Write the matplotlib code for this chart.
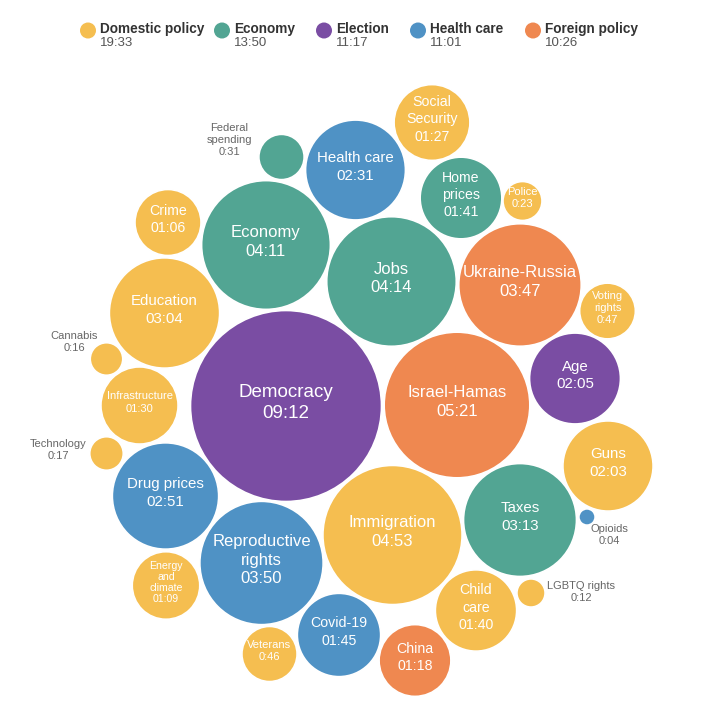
import matplotlib.pyplot as plt
from matplotlib.patches import Circle

plt.rcParams['font.family'] = ['Liberation Sans', 'DejaVu Sans']

#%% Data

groups = ["Domestic policy", "Economy", "Election", "Health care", "Foreign policy"]
group_colors = ["#F5BE50", "#52A593", "#7A4DA3", "#4F92C5", "#EF8850"]

topics = ["Democracy", "Israel-Hamas", "Immigration", "Jobs", "Economy",
          "Reproductive\nrights", "Ukraine-Russia", "Taxes", "Education", "Drug prices",
          "Health care", "Age", "Guns", "Covid-19", "Home\nprices",
          "Child\ncare", "Infrastructure", "Social\nSecurity", "China", "Energy\nand\nclimate",
          "Crime", "Voting\nrights", "Veterans", "Federal\nspending", "Police",
          "Technology", "Cannabis", "LGBTQ rights", "Opioids"]
seconds = [552, 321, 293, 254, 251,
           230, 227, 193, 184, 171,
           151, 125, 123, 105, 101,
           100, 90, 87, 78, 69,
           66, 47, 46, 31, 23,
           17, 16, 12, 4]
topic_group = [2, 4, 0, 1, 1,
               3, 4, 1, 0, 3,
               3, 2, 0, 3, 1,
               0, 0, 0, 4, 0,
               0, 0, 0, 1, 0,
               0, 0, 0, 3]

#%% Layout (bubble centres in pixels)

cx = [286, 457, 392.5, 391.5, 266,
      261.5, 520, 520, 164.5, 165.5,
      355.5, 575, 608, 339, 461,
      476, 139.5, 432, 415, 166,
      168, 607.5, 269.5, 281.5, 522.5,
      106.5, 106.5, 531, 587]
cy = [406, 405, 535, 281.5, 245,
      563, 285, 520, 313, 496,
      170, 378.5, 466, 635, 198,
      610.5, 405.5, 122.5, 660.5, 585.5,
      222.5, 311, 654, 157, 201,
      453.5, 359, 593, 517]

# labels drawn outside the bubble: (x, y) of label centre
outside = {"Federal\nspending": (229, 140),
           "Cannabis": (74, 342),
           "Technology": (58, 450),
           "Opioids": (609, 535),
           "LGBTQ rights": (581, 592)}
small_font = ["Infrastructure", "Police", "Voting\nrights", "Veterans"]
tiny_font = ["Energy\nand\nclimate"]

scale = 95.5 / 552 ** 0.5


def fmt(s):
    if s < 60:
        return f"{s // 60}:{s % 60:02d}"
    return f"{s // 60:02d}:{s % 60:02d}"


fig = plt.figure(figsize=(7.15, 7.15), dpi=100)
ax = fig.add_axes([0, 0, 1, 1])
ax.set_xlim(0, 715)
ax.set_ylim(715, 0)
ax.set_aspect('equal')
ax.axis('off')

#%% Bubbles

for i in range(len(topics)):
    r = scale * seconds[i] ** 0.5
    col = group_colors[topic_group[i]]
    ax.add_patch(Circle((cx[i], cy[i]), r, facecolor=col, edgecolor='white', linewidth=1.2))
    label = topics[i] + "\n" + fmt(seconds[i])
    if topics[i] in outside:
        lx, ly = outside[topics[i]]
        ax.text(lx, ly, label, ha='center', va='center', fontsize=8, color='#666666',
                linespacing=1.25)
        continue
    ls = 1.3
    if topics[i] in tiny_font:
        fs, ls = 7.6, 1.1
    elif topics[i] in small_font:
        fs = 8
    elif r > 90:
        fs = 13.5
    elif r > 60:
        fs = 12
    elif r > 45:
        fs = 10.8
    else:
        fs = 10.2
    ax.text(cx[i], cy[i] - 3, label, ha='center', va='center', fontsize=fs, color='white',
            linespacing=ls)

#%% Legend

legend_x = [88, 222, 324, 418, 533]
totals = [0] * len(groups)
for i in range(len(topics)):
    totals[topic_group[i]] += seconds[i]

for g in range(len(groups)):
    ax.add_patch(Circle((legend_x[g], 30.5), 8, facecolor=group_colors[g], edgecolor='none'))
    ax.text(legend_x[g] + 12, 29, groups[g], ha='left', va='center', fontsize=9.8,
            fontweight='bold', color='#333333')
    ax.text(legend_x[g] + 12, 43.5, fmt(totals[g]), ha='left', va='center', fontsize=9.5,
            color='#555555')

fig.savefig("out.png", dpi=100, facecolor='white')
